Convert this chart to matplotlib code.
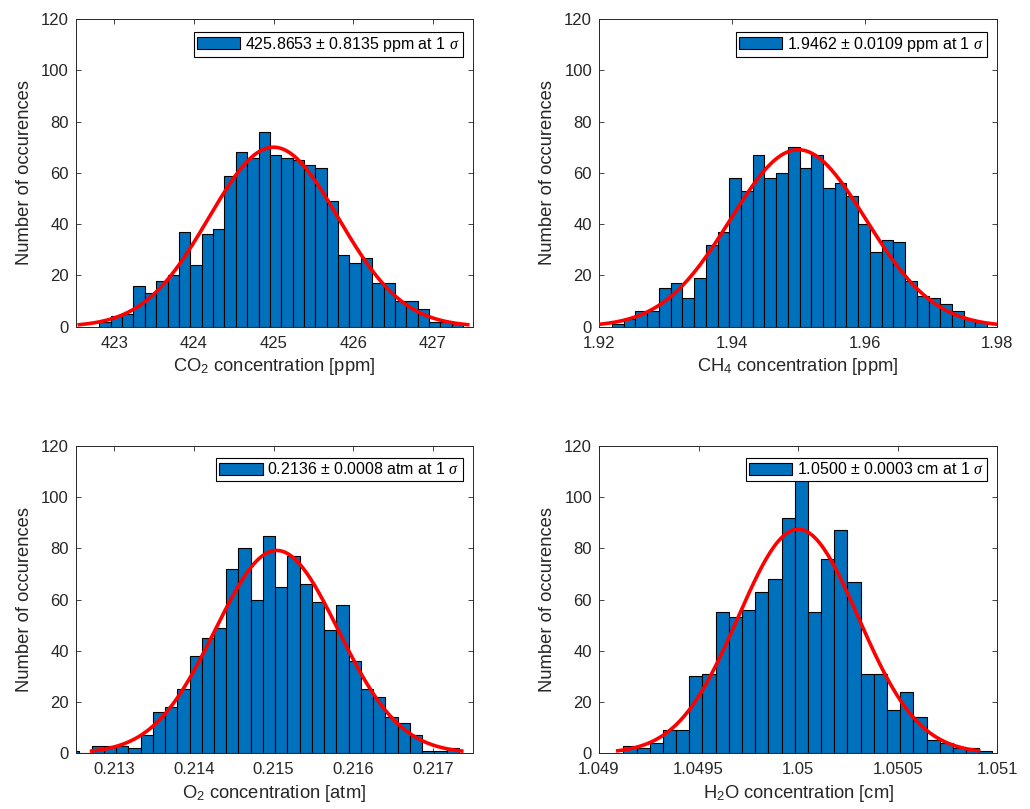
import numpy as np
import matplotlib
matplotlib.use("Agg")
import matplotlib.pyplot as plt

# Histogram data (counts per bin)
co2_start, co2_width = 422.812, 0.14285
co2_counts = [2, 4, 5, 16, 13, 18, 20, 37, 24, 36, 38, 59, 68, 66, 76, 67,
              66, 65, 63, 62, 49, 28, 25, 27, 17, 17, 10, 10, 7, 2, 2, 1]

ch4_start, ch4_width = 1.92195, 0.001766
ch4_counts = [1, 3, 6, 6, 15, 17, 11, 19, 32, 37, 58, 53, 67, 58, 60, 70,
              62, 67, 54, 56, 51, 40, 29, 34, 33, 18, 12, 11, 9, 6, 3, 2]

o2_start, o2_width = 0.212407, 0.0001538
o2_counts = [1, 0, 3, 3, 3, 2, 7, 16, 18, 25, 38, 45, 49, 72, 80, 60,
             85, 65, 77, 66, 59, 48, 58, 36, 25, 22, 14, 12, 7, 1, 1, 2]

h2o_start, h2o_width = 1.049122, 0.0000662
h2o_counts = [3, 2, 4, 9, 9, 30, 31, 55, 53, 56, 63, 68, 92, 109,
              55, 76, 87, 67, 31, 31, 17, 24, 14, 5, 4, 2, 2, 1]

# Gaussian fit parameters (mean, sigma) of the red curves
co2_fit = (425.0, 0.8135)
ch4_fit = (1.95, 0.0102)
o2_fit = (0.21504, 0.000775)
h2o_fit = (1.05, 0.000302)

legends = [
    r"425.8653$\,\pm\,$0.8135 ppm at 1 $\sigma$",
    r"1.9462$\,\pm\,$0.0109 ppm at 1 $\sigma$",
    r"0.2136$\,\pm\,$0.0008 atm at 1 $\sigma$",
    r"1.0500$\,\pm\,$0.0003 cm at 1 $\sigma$",
]
xlabels = [
    r"CO$_2$ concentration [ppm]",
    r"CH$_4$ concentration [ppm]",
    r"O$_2$ concentration [atm]",
    r"H$_2$O concentration [cm]",
]
xlims = [(422.515, 427.51), (1.92, 1.98), (0.212515, 0.21751), (1.049, 1.051)]
xticks = [
    [423, 424, 425, 426, 427],
    [1.92, 1.94, 1.96, 1.98],
    [0.213, 0.214, 0.215, 0.216, 0.217],
    [1.049, 1.0495, 1.05, 1.0505, 1.051],
]

plt.rcParams['font.family'] = ['Liberation Sans', 'DejaVu Sans']
plt.rcParams['mathtext.fontset'] = 'custom'
plt.rcParams['mathtext.rm'] = 'Liberation Sans'
plt.rcParams['mathtext.it'] = 'Liberation Serif:italic'
plt.rcParams['mathtext.bf'] = 'Liberation Sans:bold'

TXT = '#262626'
BLUE = '#0072BD'

fig = plt.figure(figsize=(10.3, 8.09), dpi=100)
positions = [
    [0.0735, 0.5962, 0.386, 0.380],
    [0.5816, 0.5962, 0.3867, 0.380],
    [0.0735, 0.0689, 0.386, 0.380],
    [0.5816, 0.0689, 0.3867, 0.380],
]
hists = [
    (co2_start, co2_width, co2_counts, co2_fit),
    (ch4_start, ch4_width, ch4_counts, ch4_fit),
    (o2_start, o2_width, o2_counts, o2_fit),
    (h2o_start, h2o_width, h2o_counts, h2o_fit),
]

for i in range(4):
    start, width, counts, fit = hists[i]
    ax = fig.add_axes(positions[i])
    counts = np.array(counts)
    edges = start + width * np.arange(len(counts))
    ax.bar(edges, counts, width=width, align='edge', color=BLUE,
           edgecolor='black', linewidth=0.8, label=legends[i], zorder=2)

    mu, sigma = fit
    xs = np.linspace(mu - 3 * sigma, mu + 3 * sigma, 300)
    amp = counts.sum() * width / (sigma * np.sqrt(2 * np.pi))
    ax.plot(xs, amp * np.exp(-0.5 * ((xs - mu) / sigma) ** 2),
            color='red', linewidth=2.6, zorder=3)

    ax.set_xlim(*xlims[i])
    ax.set_ylim(0, 120)
    ax.set_yticks(range(0, 121, 20))
    ax.set_xticks(xticks[i])
    ax.set_xticklabels(["%g" % t for t in xticks[i]])
    ax.tick_params(direction='in', top=True, right=True, length=3.5,
                   width=0.6, colors=TXT, labelsize=12, labelcolor=TXT)
    ax.tick_params(axis='x', pad=6.5)
    ax.tick_params(axis='y', pad=5)
    for s in ax.spines.values():
        s.set_color(TXT)
        s.set_linewidth(0.7)
    ax.set_xlabel(xlabels[i], fontsize=13.2, color=TXT, labelpad=4)
    ax.set_ylabel("Number of occurences", fontsize=13.2, color=TXT, labelpad=6)

    leg = ax.legend(loc='upper right', bbox_to_anchor=(0.9736, 0.96),
                    borderaxespad=0, fontsize=11.5, fancybox=False,
                    framealpha=1, edgecolor='black', borderpad=0.2,
                    handlelength=2.7, handleheight=0.75, handletextpad=0.3)
    leg.get_frame().set_linewidth(0.8)
    leg.set_zorder(5)
    for t in leg.get_texts():
        t.set_color('black')

plt.savefig("out.png", dpi=100)
